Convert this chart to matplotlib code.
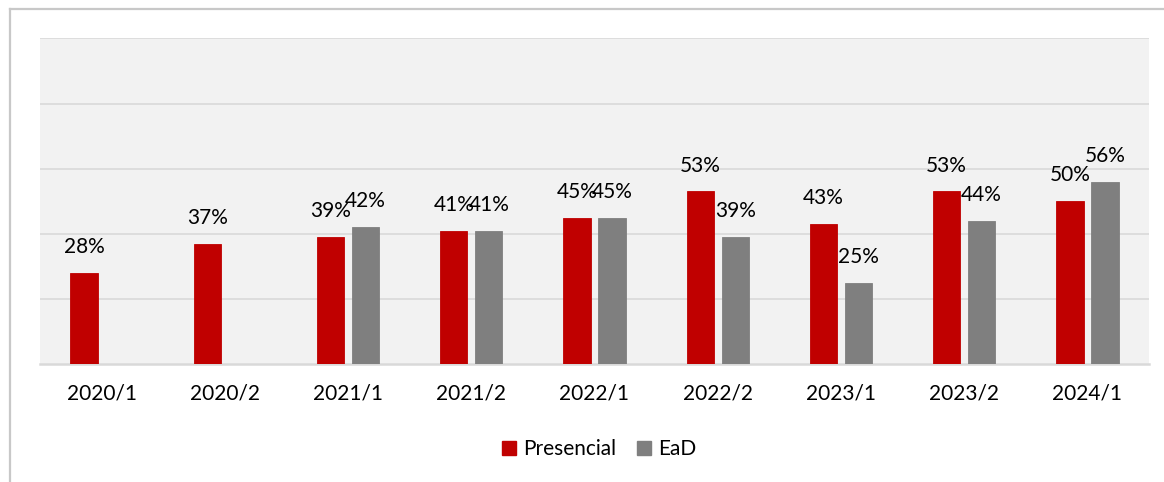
import numpy as np
import matplotlib
matplotlib.use("Agg")
import matplotlib.pyplot as plt
from matplotlib.lines import Line2D
from matplotlib.patches import Patch

plt.rcParams['font.family'] = ['Lato', 'DejaVu Sans']

categories = ["2020/1", "2020/2", "2021/1", "2021/2", "2022/1",
              "2022/2", "2023/1", "2023/2", "2024/1"]
presencial = [28, 37, 39, 41, 45, 53, 43, 53, 50]
ead = [np.nan, np.nan, 42, 41, 45, 39, 25, 44, 56]
series_names = ["Presencial", "EaD"]
colors = ["#c00000", "#7f7f7f"]

W, H = 1164, 482
fig = plt.figure(figsize=(W / 100, H / 100), dpi=100)
ax = fig.add_axes([40 / W, 1 - 364 / H, (1149 - 40) / W, (364 - 38.5) / H])
ax.set_facecolor("#f2f2f2")

x = np.arange(len(categories))
bw = 0.222
off = 0.142
fs = 15

for vals, sign, col, name in [(presencial, -1, colors[0], series_names[0]),
                              (ead, 1, colors[1], series_names[1])]:
    v = np.array(vals, dtype=float) / 100
    bars = ax.bar(x + sign * off, v, width=bw, color=col, label=name,
                  edgecolor=col, linewidth=0.6, zorder=3)
    for xi, vi in zip(x + sign * off, v):
        if np.isnan(vi):
            continue
        ax.annotate(f"{vi*100:.0f}%", (xi, vi), xytext=(0, 18.7),
                    textcoords="offset points", ha="center", va="center",
                    fontsize=fs, color="#000000", zorder=4)

ax.set_xlim(-0.5, len(categories) - 0.5)
ax.set_ylim(0, 1.0)
ax.set_yticks([0.2, 0.4, 0.6, 0.8, 1.0])
ax.yaxis.grid(True, color="#d9d9d9", linewidth=1.2, zorder=0)
ax.set_axisbelow(True)
ax.tick_params(axis="y", left=False, labelleft=False)
ax.set_xticks(x)
ax.set_xticklabels(categories, fontsize=fs, color="#000000")
ax.tick_params(axis="x", length=0, pad=14)
for s in ["left", "right", "top"]:
    ax.spines[s].set_visible(False)
ax.spines["bottom"].set_color("#d9d9d9")
ax.spines["bottom"].set_linewidth(1.8)

handles = [Patch(facecolor=colors[0], edgecolor=colors[0]),
           Patch(facecolor=colors[1], edgecolor=colors[1])]
fig.legend(handles, series_names, loc="center", bbox_to_anchor=(599 / W, 1 - 449 / H),
           ncol=2, frameon=False, fontsize=fs, handlelength=0.67, handleheight=0.67,
           handletextpad=0.35, columnspacing=1.0)

# outer frame of the chart (screenshot border)
fig.add_artist(Line2D([10 / W, 1.0], [1 - 9 / H, 1 - 9 / H], transform=fig.transFigure,
                      color="#c8c8c8", linewidth=1.6))
fig.add_artist(Line2D([10 / W, 10 / W], [0.0, 1 - 9 / H], transform=fig.transFigure,
                      color="#c8c8c8", linewidth=1.6))

fig.savefig("out.png", dpi=100)
